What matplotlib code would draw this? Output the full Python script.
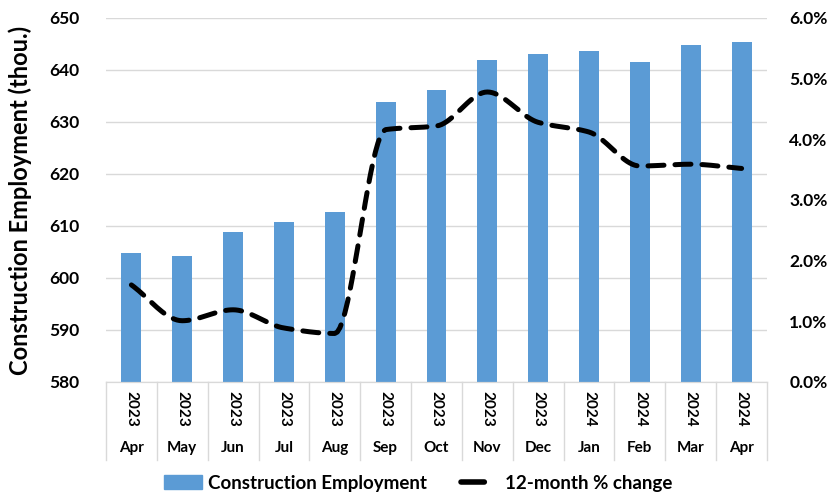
import matplotlib.pyplot as plt
import numpy as np
from matplotlib.lines import Line2D
from matplotlib.patches import Patch

plt.rcParams['font.family'] = ['Lato', 'DejaVu Sans']
plt.rcParams['font.weight'] = 'bold'
plt.rcParams['axes.labelweight'] = 'bold'

months = ['Apr', 'May', 'Jun', 'Jul', 'Aug', 'Sep', 'Oct', 'Nov', 'Dec',
          'Jan', 'Feb', 'Mar', 'Apr']
years = ['2023'] * 9 + ['2024'] * 4
employment = [604.9, 604.3, 608.8, 610.7, 612.6, 633.9, 636.2, 641.9,
              643.1, 643.6, 641.5, 644.9, 645.3]
pct_change = [1.60, 1.01, 1.19, 0.89, 0.80, 4.16, 4.22, 4.78, 4.28,
              4.12, 3.56, 3.59, 3.52]
left_ticks = np.arange(580, 651, 10)
right_ticks = np.arange(0, 6.1, 1)


# smooth curve through the points, monotone tangents (no big overshoot)
def smooth(x, y, n=20):
    x = np.asarray(x, float)
    y = np.asarray(y, float)
    d = np.diff(y)
    m = np.zeros_like(y)
    m[0], m[-1] = d[0], d[-1]
    for i in range(1, len(y)-1):
        if d[i-1]*d[i] > 0:
            m[i] = 2.0 / (1.0/d[i-1] + 1.0/d[i])
    t = np.linspace(0, 1, n, endpoint=False)
    h00 = 2*t**3 - 3*t**2 + 1
    h10 = t**3 - 2*t**2 + t
    h01 = -2*t**3 + 3*t**2
    h11 = t**3 - t**2
    xs, ys = [], []
    for i in range(len(x)-1):
        xs.extend(x[i] + t*(x[i+1]-x[i]))
        ys.extend(h00*y[i] + h10*m[i] + h01*y[i+1] + h11*m[i+1])
    xs.append(x[-1])
    ys.append(y[-1])
    return np.array(xs), np.array(ys)


fig = plt.figure(figsize=(8.37, 4.97), dpi=100)
ax = fig.add_axes([0.1266, 0.2314, 0.7898, 0.7324])
ax2 = ax.twinx()

x = np.arange(len(months))
ax.bar(x, employment, width=0.39, color='#5B9BD5', zorder=2)
ax.set_ylim(580, 650)
ax.set_xlim(-0.5, len(months)-0.5)
ax.set_yticks(left_ticks, ['%d' % v for v in left_ticks],
              fontweight='bold', fontsize=12.5)
ax.yaxis.grid(True, color='#D9D9D9', lw=1)
ax.set_axisbelow(True)

sx, sy = smooth(x, pct_change)
ax2.plot(sx, sy, color='black', lw=3.6, dashes=(3.2, 2.2),
         dash_capstyle='round', zorder=3)
ax2.set_ylim(0, 6)
ax2.set_yticks(right_ticks, ['%.1f%%' % v for v in right_ticks],
               fontweight='bold', fontsize=12.5)

for a in (ax, ax2):
    for s in ('top', 'left', 'right'):
        a.spines[s].set_visible(False)
    a.spines['bottom'].set_color('#D9D9D9')
    a.tick_params(length=0)
ax.tick_params(axis='y', pad=19)
ax2.tick_params(axis='y', pad=16)
ax.set_xticks([])

# two-level category axis
tr = ax.get_xaxis_transform()
for i in range(len(months)):
    ax.text(i, -0.074, years[i], transform=tr, rotation=-90, ha='center',
            va='center', fontsize=11)
    ax.text(i, -0.181, months[i], transform=tr, ha='center', va='center',
            fontsize=11)
for b in np.arange(-0.5, len(months), 1):
    ax.plot([b, b], [0, -0.214], transform=tr, color='#D9D9D9', lw=1,
            clip_on=False)

ax.set_ylabel('Construction Employment (thou.)', fontsize=17)
ax.yaxis.set_label_coords(-0.112, 0.5)

handles = [Patch(color='#5B9BD5', label='Construction Employment'),
           Line2D([0], [0], color='black', lw=4, dashes=(4.2, 10),
                  dash_capstyle='round', label='12-month % change')]
fig.legend(handles=handles, loc='center', bbox_to_anchor=(0.5, 0.028),
           ncol=2, frameon=False, fontsize=13.5, handlelength=2.0,
           handletextpad=0.35, columnspacing=1.8)

fig.savefig('out.png', dpi=100)
